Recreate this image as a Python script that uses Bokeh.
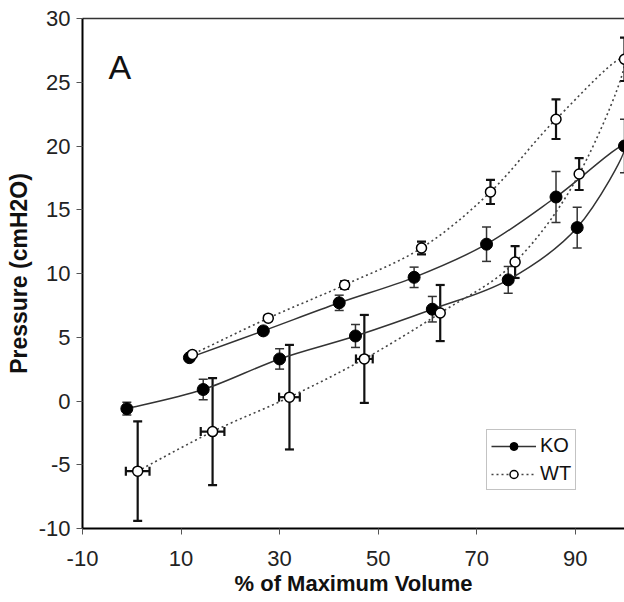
import numpy as np
from bokeh.plotting import figure
from bokeh.models import (ColumnDataSource, Whisker, TeeHead, Legend, LegendItem,
                          FixedTicker, LinearAxis, Label, Range1d, PrintfTickFormatter)
from bokeh.embed import file_html
from bokeh.resources import INLINE

# ---- data ----
KO_infl_x = [-1.0, 14.5, 30.0, 45.4, 61.0, 76.4, 90.4, 100.0]
KO_infl_y = [-0.6, 0.9, 3.3, 5.1, 7.2, 9.5, 13.6, 20.0]
KO_infl_err = [0.5, 0.8, 0.8, 0.9, 1.0, 1.05, 1.6, 2.1]
KO_defl_x = [86.1, 72.0, 57.3, 42.1, 26.7, 11.7]
KO_defl_y = [16.0, 12.3, 9.7, 7.7, 5.5, 3.4]
KO_defl_err = [2.0, 1.35, 0.8, 0.6, 0.3, 0.2]

WT_infl_x = [1.2, 16.4, 32.0, 47.2, 62.6, 77.8, 90.8, 100.0]
WT_infl_y = [-5.5, -2.4, 0.3, 3.3, 6.9, 10.9, 17.8, 26.8]
WT_infl_err = [3.9, 4.2, 4.1, 3.45, 2.2, 1.25, 1.25, 1.7]
WT_infl_xerr = [2.4, 2.4, 2.1, 1.7, 0.0, 0.0, 0.0, 0.0]
WT_defl_x = [86.1, 72.8, 58.8, 43.2, 27.7, 12.3]
WT_defl_y = [22.1, 16.4, 12.0, 9.1, 6.5, 3.65]
WT_defl_err = [1.55, 0.95, 0.5, 0.3, 0.2, 0.2]

x_ticks = [-10, 10, 30, 50, 70, 90]
y_ticks = [-10, -5, 0, 5, 10, 15, 20, 25, 30]

FONT = "Liberation Sans"


def smooth_source(xs, ys):
    """Catmull-Rom style bezier segments through the data points."""
    P = np.column_stack([xs, ys]).astype(float)
    n = len(P)
    d = dict(x0=[], y0=[], x1=[], y1=[], cx0=[], cy0=[], cx1=[], cy1=[])
    for i in range(n - 1):
        p0 = P[i - 1] if i > 0 else P[i]
        p1, p2 = P[i], P[i + 1]
        p3 = P[i + 2] if i + 2 < n else P[i + 1]
        c1 = p1 + (p2 - p0) / 6.0
        c2 = p2 - (p3 - p1) / 6.0
        d["x0"].append(p1[0]); d["y0"].append(p1[1])
        d["x1"].append(p2[0]); d["y1"].append(p2[1])
        d["cx0"].append(c1[0]); d["cy0"].append(c1[1])
        d["cx1"].append(c2[0]); d["cy1"].append(c2[1])
    return ColumnDataSource(d)


p = figure(width=624, height=602, output_backend="svg", toolbar_location=None,
           x_range=Range1d(-10, 100), y_range=Range1d(-10, 30),
           min_border_left=82, min_border_right=0, min_border_top=18,
           min_border_bottom=74, outline_line_color=None,
           background_fill_color="white", border_fill_color="white")
p.grid.visible = False

for ax in (p.xaxis[0], p.yaxis[0]):
    ax.axis_line_color = "black"
    ax.axis_line_width = 2
    ax.major_tick_line_color = "#555"
    ax.major_tick_line_width = 1
    ax.major_tick_out = 6
    ax.major_tick_in = 0
    ax.minor_tick_line_color = None
    ax.major_label_text_font = FONT
    ax.major_label_text_font_size = "22px"
    ax.major_label_text_color = "#222"
    ax.axis_label_text_font = FONT
    ax.axis_label_text_font_style = "bold"
    ax.axis_label_text_color = "#111"
    ax.formatter = PrintfTickFormatter(format="%d")

p.xaxis.ticker = FixedTicker(ticks=x_ticks)
p.yaxis.ticker = FixedTicker(ticks=y_ticks)
p.xaxis.axis_label = "% of Maximum Volume"
p.yaxis.axis_label = "Pressure (cmH2O)"
p.xaxis.axis_label_text_font_size = "22px"
p.yaxis.axis_label_text_font_size = "23px"
p.xaxis.major_label_standoff = 16
p.xaxis.axis_label_standoff = 2
p.yaxis.major_label_standoff = 6
p.yaxis.axis_label_standoff = 4

top = LinearAxis(major_tick_line_color=None, minor_tick_line_color=None,
                 major_label_text_font_size="0px", axis_line_color="#333",
                 axis_line_width=1.5, ticker=FixedTicker(ticks=[]))
p.add_layout(top, "above")

# ---- curves ----
ko_x = KO_infl_x + KO_defl_x
ko_y = KO_infl_y + KO_defl_y
wt_x = WT_infl_x + WT_defl_x
wt_y = WT_infl_y + WT_defl_y

ko_curve = p.bezier(x0="x0", y0="y0", x1="x1", y1="y1", cx0="cx0", cy0="cy0",
                    cx1="cx1", cy1="cy1", source=smooth_source(ko_x, ko_y),
                    line_color="#333", line_width=1.5)
wt_curve = p.bezier(x0="x0", y0="y0", x1="x1", y1="y1", cx0="cx0", cy0="cy0",
                    cx1="cx1", cy1="cy1", source=smooth_source(wt_x, wt_y),
                    line_color="#444", line_width=1.6, line_dash="2 3")

# ---- error bars ----
def add_yerr(xs, ys, errs, color, width):
    src = ColumnDataSource(dict(x=xs, upper=[y + e for y, e in zip(ys, errs)],
                                lower=[y - e for y, e in zip(ys, errs)]))
    w = Whisker(source=src, base="x", upper="upper", lower="lower",
                dimension="height", line_color=color, line_width=width,
                upper_head=TeeHead(size=9, line_color=color, line_width=width),
                lower_head=TeeHead(size=9, line_color=color, line_width=width),
                level="underlay")
    p.add_layout(w)


add_yerr(KO_infl_x + KO_defl_x, KO_infl_y + KO_defl_y, KO_infl_err + KO_defl_err, "#333", 1.5)
add_yerr(WT_infl_x + WT_defl_x, WT_infl_y + WT_defl_y, WT_infl_err + WT_defl_err, "#111", 2.2)

xe = [(x, y, e) for x, y, e in zip(WT_infl_x, WT_infl_y, WT_infl_xerr) if e > 0]
xsrc = ColumnDataSource(dict(y=[t[1] for t in xe], lo=[t[0] - t[2] for t in xe],
                             hi=[t[0] + t[2] for t in xe]))
p.add_layout(Whisker(source=xsrc, base="y", upper="hi", lower="lo", dimension="width",
                     line_color="#111", line_width=2.2,
                     upper_head=TeeHead(size=9, line_color="#111", line_width=2.2),
                     lower_head=TeeHead(size=9, line_color="#111", line_width=2.2),
                     level="underlay"))

# ---- markers ----
ko_pts = p.scatter(ko_x, ko_y, marker="circle", size=12, fill_color="black",
                   line_color="black", line_width=1)
wt_pts = p.scatter(wt_x, wt_y, marker="circle", size=10, fill_color="white",
                   line_color="black", line_width=1.5)

# ---- legend ----
legend = Legend(items=[LegendItem(label="KO", renderers=[ko_curve, ko_pts]),
                       LegendItem(label="WT", renderers=[wt_curve, wt_pts])],
                location=(404, 38), label_text_font=FONT, label_text_font_size="20px",
                label_text_color="#111", glyph_width=45, glyph_height=20,
                label_height=20, label_standoff=4, spacing=5, padding=4,
                margin=0, border_line_color="#888", border_line_width=1,
                background_fill_color="white", background_fill_alpha=1)
p.add_layout(legend)

p.add_layout(Label(x=-4.7, y=26.2, text="A", text_font=FONT, text_font_size="34px",
                   text_color="#111", text_baseline="alphabetic"))

open("out.html", "w").write(file_html(p, INLINE))
